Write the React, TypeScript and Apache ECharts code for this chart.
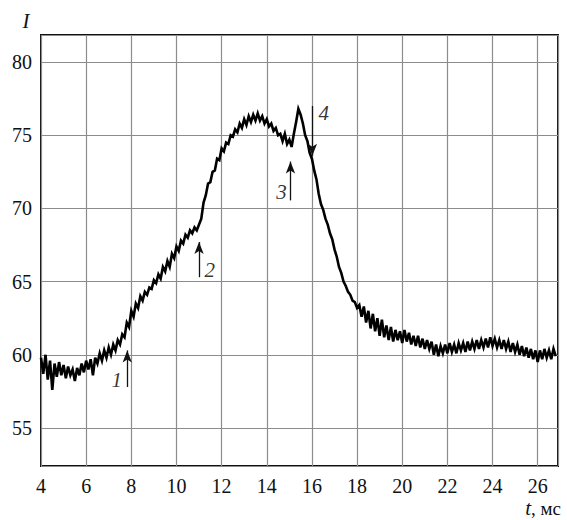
import React, { useEffect, useRef } from "react";
import * as echarts from "echarts";

const sampleStep = 0.1;

const segAStart = 4.0;
const segA = [
  59.8, 58.7, 60.0, 58.3, 59.6, 57.6, 59.4, 58.5, 59.5, 58.6,
  59.3, 58.4, 59.2, 58.6, 59.0, 58.2, 59.1, 58.6, 59.4, 58.8,
  59.6, 59.0, 59.7, 58.6, 59.8, 59.4, 60.1, 59.6, 60.3, 59.8,
  60.5, 60.0, 60.7, 60.3, 61.0, 60.7, 61.4, 61.2, 62.2, 61.9,
];

const segBStart = 8.0;
const segB = [
  63.0, 62.6, 63.5, 63.2, 64.0, 63.7, 64.3, 64.1, 64.6, 64.5,
  65.1, 64.9, 65.5, 65.2, 66.0, 65.7, 66.4, 66.0, 66.9, 66.6,
  67.4, 67.1, 67.8, 67.6, 68.2, 68.0, 68.5, 68.3, 68.7, 68.5,
  68.9, 69.3, 70.4, 70.9, 71.7, 71.8, 72.5, 72.6, 73.4, 73.3,
];

const segCStart = 12.0;
const segC = [
  74.1, 73.9, 74.5, 74.4, 75.0, 74.9, 75.4, 75.2, 75.8, 75.5,
  76.1, 75.7, 76.3, 75.9, 76.4, 76.0, 76.5, 76.0, 76.3, 75.8,
  76.1, 75.6, 75.8, 75.3, 75.5, 75.0, 75.1, 74.6, 75.1, 74.4,
  74.7, 74.2, 75.1, 75.9, 76.8, 76.4, 75.8, 75.0, 74.6, 73.8,
];

const segDStart = 16.0;
const segD = [
  73.4, 72.6, 72.0, 71.0, 70.3, 69.9, 69.3, 68.9, 68.3, 67.9,
  67.2, 66.7, 66.0, 65.6, 65.0, 64.7, 64.3, 64.1, 63.7, 63.6,
  63.2, 63.4, 62.6, 63.3, 62.2, 63.0, 61.8, 62.8, 61.6, 62.5,
  61.3, 62.4, 61.2, 62.0, 61.0, 61.9, 60.9, 61.7, 61.0, 61.6,
];

const segEStart = 20.0;
const segE = [
  60.8, 61.7, 60.9, 61.5, 60.7, 61.3, 60.6, 61.3, 60.5, 61.1,
  60.4, 61.0, 60.4, 60.9, 60.0, 60.7, 59.9, 60.6, 60.1, 60.7,
  60.1, 60.8, 60.2, 60.7, 60.1, 60.8, 60.3, 60.8, 60.2, 60.9,
  60.3, 60.9, 60.4, 61.0, 60.4, 61.0, 60.5, 61.1, 60.5, 61.2,
  60.6, 61.1, 60.5, 61.0, 60.4, 61.0, 60.4, 60.9, 60.2, 60.8,
  60.2, 60.7, 60.0, 60.6, 59.9, 60.5, 59.8, 60.4, 59.7, 60.3,
  59.5, 60.3, 59.7, 60.4, 59.8, 60.3, 59.7, 60.4, 59.9,
];

const arrowX = [7.82, 11.0, 15.05, 16.02];
const arrowTail = [57.8, 65.3, 70.55, 77.0];
const arrowTip = [60.3, 67.7, 73.2, 73.6];
const labelX = [7.36, 11.48, 14.65, 16.52];
const labelY = [58.3, 65.8, 71.1, 76.5];
const labelText = ["1", "2", "3", "4"];

const FONT = "Liberation Serif";

export default function App() {
  const ref = useRef<HTMLDivElement>(null);
  useEffect(() => {
    document.body.style.margin = "0";
    if (!ref.current) return;
    const chart = echarts.init(ref.current, undefined, { renderer: "svg" });

    const points: number[][] = [];
    const segs: [number, number[]][] = [
      [segAStart, segA],
      [segBStart, segB],
      [segCStart, segC],
      [segDStart, segD],
      [segEStart, segE],
    ];
    segs.forEach(([start, vals]) => {
      vals.forEach((v, i) => {
        points.push([+(start + i * sampleStep).toFixed(2), v]);
      });
    });

    const arrowData = arrowX.map((x, i) => [
      { coord: [x, arrowTail[i]], symbol: "none" },
      { coord: [x, arrowTip[i]], symbol: "arrow" },
    ]);

    const labelData = labelX.map((x, i) => [x, labelY[i], labelText[i]]);

    chart.setOption({
      animation: false,
      grid: {
        left: 41,
        right: 9,
        top: 35,
        bottom: 54,
        show: true,
        borderColor: "#111",
        borderWidth: 2,
        outerBoundsMode: "none",
      },
      xAxis: {
        type: "value",
        min: 4,
        max: 26.9,
        interval: 2,
        axisLine: { show: false },
        axisTick: { show: false },
        axisLabel: {
          showMaxLabel: false,
          margin: 10,
          color: "#111",
          fontFamily: FONT,
          fontSize: 20,
        },
        splitLine: { show: true, lineStyle: { color: "#8c8c8c", width: 1.2 } },
      },
      yAxis: {
        type: "value",
        min: 52.4,
        max: 81.85,
        splitNumber: 6,
        axisLine: { show: false },
        axisTick: { show: false },
        axisLabel: {
          showMinLabel: false,
          showMaxLabel: false,
          margin: 9,
          color: "#111",
          fontFamily: FONT,
          fontSize: 20,
        },
        splitLine: { show: true, lineStyle: { color: "#8c8c8c", width: 1.2 } },
      },
      graphic: [
        {
          type: "text",
          x: 26,
          y: 21,
          style: {
            text: "I",
            fontFamily: FONT,
            fontStyle: "italic",
            fontSize: 21,
            fill: "#111",
            align: "center",
            verticalAlign: "middle",
          },
        },
        {
          type: "text",
          x: 561,
          y: 508,
          style: {
            text: "{i|t}, мс",
            fontFamily: FONT,
            fontSize: 19,
            fill: "#111",
            align: "right",
            verticalAlign: "middle",
            rich: {
              i: { fontFamily: FONT, fontStyle: "italic", fontSize: 21, fill: "#111" },
            },
          },
        },
      ],
      series: [
        {
          type: "line",
          data: points,
          showSymbol: false,
          symbol: "none",
          lineStyle: { color: "#000", width: 2.6, join: "miter" },
          silent: true,
          markLine: {
            silent: true,
            symbolSize: [7, 12],
            lineStyle: { color: "#111", width: 1.3, type: "solid" },
            label: { show: false },
            data: arrowData,
          },
          z: 3,
        },
        {
          type: "scatter",
          data: labelData,
          symbolSize: 0,
          silent: true,
          label: {
            show: true,
            position: "inside",
            formatter: (p: any) => p.value[2],
            fontFamily: FONT,
            fontStyle: "italic",
            fontSize: 21,
            color: "#000",
            textBorderWidth: 0,
          },
          z: 4,
        },
      ],
    });
    return () => chart.dispose();
  }, []);
  return <div ref={ref} style={{ width: 567, height: 520 }} />;
}
